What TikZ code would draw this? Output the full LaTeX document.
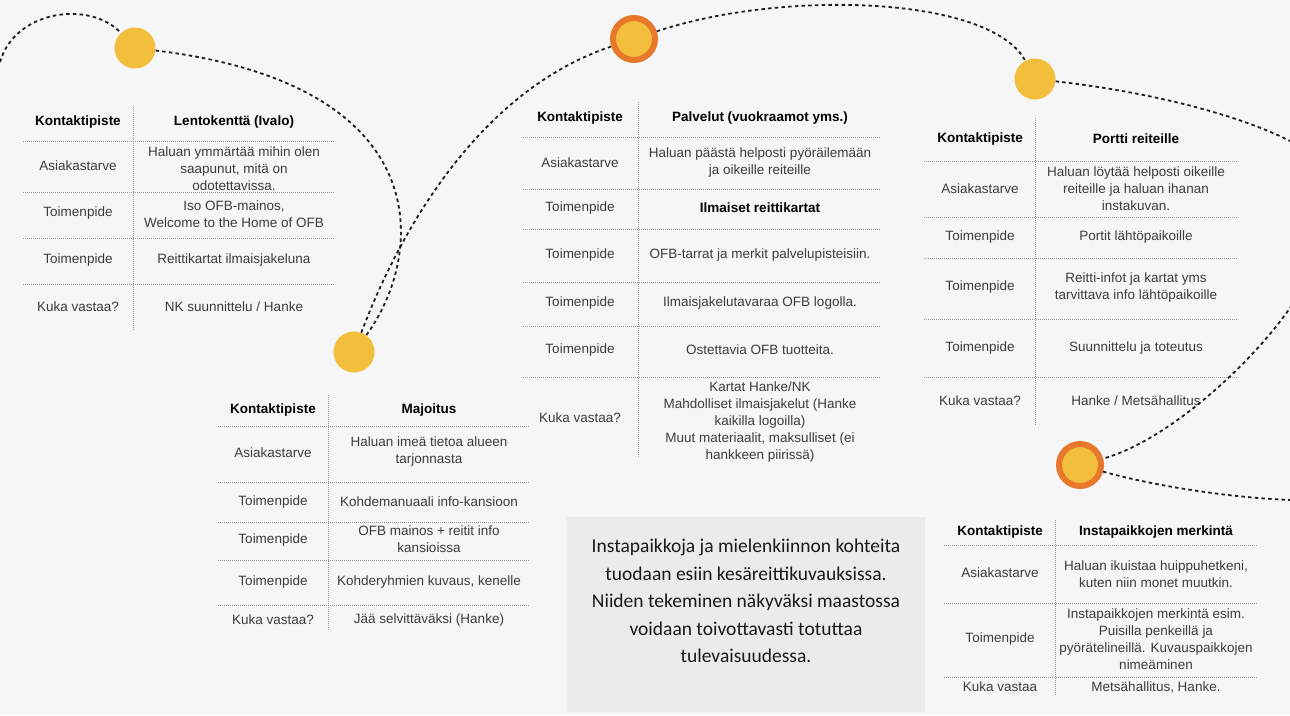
\documentclass[tikz,border=0pt]{standalone}
\usepackage{fontspec}
\setmainfont{Liberation Sans}
\newfontfamily\boxfont{Carlito}
\definecolor{paper}{HTML}{F5F6F8}
\definecolor{boxgray}{HTML}{EBEBEB}
\definecolor{sun}{HTML}{F2BE3C}
\definecolor{ember}{HTML}{E8782A}
\definecolor{trailink}{HTML}{1E1E1E}
\definecolor{rulegray}{HTML}{9A9A9A}
\definecolor{ink}{HTML}{3C3C3C}
\tikzset{
  trail/.style={draw=trailink, line width=1.8pt, dash pattern=on 3.5pt off 3.2pt},
  stop/.style={circle, fill=sun, minimum size=41pt, inner sep=0pt},
  bigstop/.style={stop, draw=ember, line width=6pt, minimum size=42pt, outer sep=3pt},
  rule/.style={draw=rulegray, line width=0.8pt, dash pattern=on 1pt off 1pt},
  head/.style={font=\bfseries\fontsize{13.5}{17}\selectfont, text=black, align=center, inner sep=0pt},
  cell/.style={font=\fontsize{13.5}{17}\selectfont, text=ink, align=center, inner sep=0pt},
  note/.style={font=\boxfont\fontsize{19.5}{27.6}\selectfont, text=black!90, align=center, inner sep=0pt}
}
\begin{document}
\begin{tikzpicture}[x=1pt,y=-1pt]
    %Tausta
        \fill[paper] (0,0) rectangle (1290,715);
        \useasboundingbox (0,0) rectangle (1290,715);
        \fill[boxgray] (567,517) rectangle (925,712);

    %Taulukko 1
        \draw[rule] (133,107)--(133,330);
        \draw[rule] (23,141)--(335,141);
        \draw[rule] (23,192)--(335,192);
        \draw[rule] (23,238)--(335,238);
        \draw[rule] (23,284)--(335,284);
        \node[head] (lento-k0) at (78,122) {Kontaktipiste};
        \node[head] (lento-v0) at (234,122) {Lentokenttä (Ivalo)};
        \node[cell] (lento-k1) at (78,166) {Asiakastarve};
        \node[cell] (lento-v1) at (234,169) {Haluan ymmärtää mihin olen\\saapunut, mitä on\\odotettavissa.};
        \node[cell] (lento-k2) at (78,213) {Toimenpide};
        \node[cell] (lento-v2) at (234,214) {Iso OFB-mainos,\\Welcome to the Home of OFB};
        \node[cell] (lento-k3) at (78,260) {Toimenpide};
        \node[cell] (lento-v3) at (234,260) {Reittikartat ilmaisjakeluna};
        \node[cell] (lento-k4) at (78,307) {Kuka vastaa?};
        \node[cell] (lento-v4) at (234,307) {NK suunnittelu / Hanke};

    %Taulukko 2
        \draw[rule] (638,102)--(638,458);
        \draw[rule] (523,137)--(881,137);
        \draw[rule] (523,189)--(881,189);
        \draw[rule] (523,229)--(881,229);
        \draw[rule] (523,282)--(881,282);
        \draw[rule] (523,326)--(881,326);
        \draw[rule] (523,377)--(881,377);
        \node[head] (palv-k0) at (580,118) {Kontaktipiste};
        \node[head] (palv-v0) at (760,118) {Palvelut (vuokraamot yms.)};
        \node[cell] (palv-k1) at (580,163) {Asiakastarve};
        \node[cell] (palv-v1) at (760,163) {Haluan päästä helposti pyöräilemään\\ja oikeille reiteille};
        \node[cell] (palv-k2) at (580,208) {Toimenpide};
        \node[head] (palv-v2) at (760,208) {Ilmaiset reittikartat};
        \node[cell] (palv-k3) at (580,255) {Toimenpide};
        \node[cell] (palv-v3) at (760,255) {OFB-tarrat ja merkit palvelupisteisiin.};
        \node[cell] (palv-k4) at (580,303) {Toimenpide};
        \node[cell] (palv-v4) at (760,303) {Ilmaisjakelutavaraa OFB logolla.};
        \node[cell] (palv-k5) at (580,350) {Toimenpide};
        \node[cell] (palv-v5) at (760,350) {Ostettavia OFB tuotteita.};
        \node[cell] (palv-k6) at (580,418) {Kuka vastaa?};
        \node[cell] (palv-v6) at (760,422) {Kartat Hanke/NK\\Mahdolliset ilmaisjakelut (Hanke\\kaikilla logoilla)\\Muut materiaalit, maksulliset (ei\\hankkeen piirissä)};

    %Taulukko 3
        \draw[rule] (1035,118)--(1035,425);
        \draw[rule] (924,161)--(1237,161);
        \draw[rule] (924,217)--(1237,217);
        \draw[rule] (924,258)--(1237,258);
        \draw[rule] (924,319)--(1237,319);
        \draw[rule] (924,377)--(1237,377);
        \node[head] (portti-k0) at (980,139) {Kontaktipiste};
        \node[head] (portti-v0) at (1136,139) {Portti reiteille};
        \node[cell] (portti-k1) at (980,189) {Asiakastarve};
        \node[cell] (portti-v1) at (1136,189) {Haluan löytää helposti oikeille\\reiteille ja haluan ihanan\\instakuvan.};
        \node[cell] (portti-k2) at (980,237) {Toimenpide};
        \node[cell] (portti-v2) at (1136,237) {Portit lähtöpaikoille};
        \node[cell] (portti-k3) at (980,287) {Toimenpide};
        \node[cell] (portti-v3) at (1136,288) {Reitti-infot ja kartat yms\\tarvittava info lähtöpaikoille};
        \node[cell] (portti-k4) at (980,348) {Toimenpide};
        \node[cell] (portti-v4) at (1136,348) {Suunnittelu ja toteutus};
        \node[cell] (portti-k5) at (980,401) {Kuka vastaa?};
        \node[cell] (portti-v5) at (1136,401) {Hanke / Metsähallitus};

    %Taulukko 4
        \draw[rule] (328,395)--(328,630);
        \draw[rule] (218,426)--(530,426);
        \draw[rule] (218,482)--(530,482);
        \draw[rule] (218,522)--(530,522);
        \draw[rule] (218,560)--(530,560);
        \draw[rule] (218,605)--(530,605);
        \node[head] (majo-k0) at (273,410) {Kontaktipiste};
        \node[head] (majo-v0) at (429,410) {Majoitus};
        \node[cell] (majo-k1) at (273,453) {Asiakastarve};
        \node[cell] (majo-v1) at (429,452) {Haluan imeä tietoa alueen\\tarjonnasta};
        \node[cell] (majo-k2) at (273,502) {Toimenpide};
        \node[cell] (majo-v2) at (429,502) {Kohdemanuaali info-kansioon};
        \node[cell] (majo-k3) at (273,540) {Toimenpide};
        \node[cell] (majo-v3) at (429,539) {OFB mainos + reitit info\\kansioissa};
        \node[cell] (majo-k4) at (273,582) {Toimenpide};
        \node[cell] (majo-v4) at (429,582) {Kohderyhmien kuvaus, kenelle};
        \node[cell] (majo-k5) at (273,620) {Kuka vastaa?};
        \node[cell] (majo-v5) at (429,620) {Jää selvittäväksi (Hanke)};

    %Taulukko 5
        \draw[rule] (1055,520)--(1055,695);
        \draw[rule] (944,545)--(1257,545);
        \draw[rule] (944,603)--(1257,603);
        \draw[rule] (944,677)--(1257,677);
        \node[head] (insta-k0) at (1000,532) {Kontaktipiste};
        \node[head] (insta-v0) at (1156,532) {Instapaikkojen merkintä};
        \node[cell] (insta-k1) at (1000,573) {Asiakastarve};
        \node[cell] (insta-v1) at (1156,574) {Haluan ikuistaa huippuhetkeni,\\kuten niin monet muutkin.};
        \node[cell] (insta-k2) at (1000,639) {Toimenpide};
        \node[cell] (insta-v2) at (1156,639) {Instapaikkojen merkintä esim.\\Puisilla penkeillä ja\\pyörätelineillä. Kuvauspaikkojen\\nimeäminen};
        \node[cell] (insta-k3) at (1000,687) {Kuka vastaa};
        \node[cell] (insta-v3) at (1156,687) {Metsähallitus, Hanke.};

    %Laatikko
        \node[note] (huom) at (746,601) {Instapaikkoja ja mielenkiinnon kohteita\\tuodaan esiin kesäreittikuvauksissa.\\Niiden tekeminen näkyväksi maastossa\\voidaan toivottavasti totuttaa\\tulevaisuudessa.};

    %Pisteet
        \node[stop] (c1) at (135,48) {};
        \node[bigstop] (c2) at (634,39) {};
        \node[stop] (c3) at (1035,79) {};
        \node[stop] (c4) at (354,352) {};
        \node[bigstop] (c5) at (1080,465) {};
        \coordinate (alku) at (0,62);
        \coordinate (ulos1) at (1292,142);
        \coordinate (sisaan) at (1292,305);
        \coordinate (ulos2) at (1292,500);

    %Polku
        \draw[trail] (alku) .. controls (15,10) and (90,0) .. (c1);
        \draw[trail] (c1) .. controls (440,85) and (425,255) .. (c4);
        \draw[trail] (c4) .. controls (400,230) and (480,90) .. (c2);
        \draw[trail] (c2) .. controls (780,-10) and (990,-5) .. (c3);
        \draw[trail] (c3) .. controls (1150,92) and (1240,115) .. (ulos1);
        \draw[trail] (sisaan) .. controls (1255,360) and (1170,440) .. (c5);
        \draw[trail] (c5) .. controls (1150,485) and (1230,498) .. (ulos2);
    \end{tikzpicture}
\end{document}
